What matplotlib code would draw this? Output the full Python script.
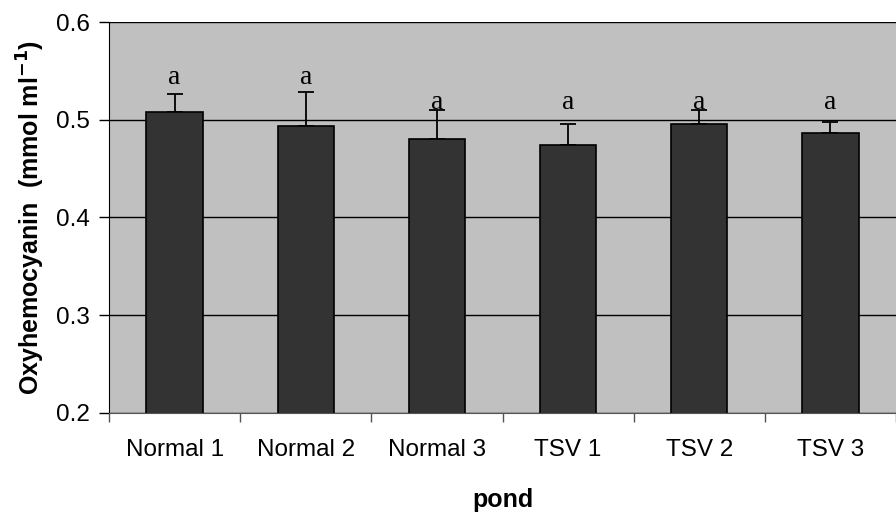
import matplotlib
matplotlib.use("Agg")

import matplotlib.pyplot as plt
import numpy as np


# Data
ponds = ["Normal 1", "Normal 2", "Normal 3", "TSV 1", "TSV 2", "TSV 3"]
means = [0.508, 0.494, 0.480, 0.474, 0.496, 0.486]
errors = [0.018, 0.034, 0.030, 0.022, 0.014, 0.012]
letters = ["a", "a", "a", "a", "a", "a"]
letter_y = [0.543, 0.543, 0.518, 0.518, 0.518, 0.518]


plt.rcParams["font.family"] = ["Liberation Sans", "DejaVu Sans"]

fig = plt.figure(figsize=(8.96, 5.12), dpi=100)
ax = fig.add_axes([0.1217, 0.1934, 0.8783, 0.7636])
ax.set_facecolor("#c0c0c0")

x = np.arange(len(ponds))

ax.bar(
    x, means,
    width=0.43,
    color="#333333",
    edgecolor="black",
    linewidth=1.2,
    zorder=3
)

ax.errorbar(
    x, means,
    yerr=[np.zeros(len(errors)), errors],
    fmt="none",
    ecolor="black",
    elinewidth=1.3,
    capsize=6,
    capthick=1.3,
    zorder=2
)

for xi, lab, ly in zip(x, letters, letter_y):
    ax.text(xi, ly, lab, ha="center", va="center",
            family="Liberation Serif", fontsize=20, zorder=4)

ax.set_ylim(0.2, 0.6)
ax.set_xlim(-0.5, len(ponds) - 0.5)
ax.set_yticks([0.2, 0.3, 0.4, 0.5, 0.6])
ax.set_yticklabels(["0.2", "0.3", "0.4", "0.5", "0.6"])
ax.yaxis.grid(True, color="black", linewidth=1.0, zorder=1)
ax.set_axisbelow(True)

ax.set_xticks(x)
ax.set_xticklabels(ponds)
ax.set_xticks(np.arange(-0.5, len(ponds)), minor=True)
ax.tick_params(axis="x", which="major", length=0, pad=19, labelsize=17.5)
ax.tick_params(axis="x", which="minor", length=6.5, width=1, color="#555555")
ax.tick_params(axis="y", length=7, width=1, labelsize=17.5, pad=7)

for side in ["top", "right"]:
    ax.spines[side].set_visible(False)
ax.spines["left"].set_color("black")
ax.spines["bottom"].set_color("#555555")

ax.set_xlabel("pond", fontweight="bold", fontsize=18, labelpad=19)
ax.set_ylabel("Oxyhemocyanin  (mmol ml$^{\\mathbf{-1}}$)", fontweight="bold",
              fontsize=18, labelpad=6)

fig.savefig("out.png", dpi=100)
